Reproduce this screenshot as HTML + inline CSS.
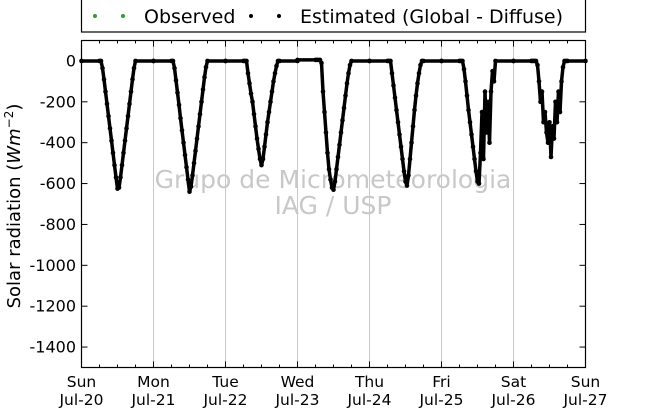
<!DOCTYPE html>
<html><head><meta charset="utf-8"><style>
body{margin:0;background:#fff;}
svg{display:block;font-family:"DejaVu Sans","Liberation Sans",sans-serif;}
</style></head><body>
<svg id="chart" width="650" height="409" viewBox="0 0 650 409">
<rect width="650" height="409" fill="#fff"/>
<g id="grid"></g>
<text x="333" y="188" text-anchor="middle" font-size="25" fill="#c8c8c8">Grupo de Micrometeorologia</text>
<text x="333" y="214" text-anchor="middle" font-size="25" fill="#c8c8c8">IAG / USP</text>
<g id="series"></g>
<rect x="81.5" y="40.5" width="504" height="327" fill="none" stroke="#000" stroke-width="1.2"/>
<g id="axes"></g>
<text transform="translate(20,206) rotate(-90)" text-anchor="middle" font-size="18">Solar radiation (<tspan font-style="italic">Wm</tspan><tspan font-size="12" dy="-7">−2</tspan><tspan dy="7">)</tspan></text>
<g>
<rect x="81.5" y="-5" width="504" height="37" fill="#fff" stroke="#000" stroke-width="1.2"/>
<circle cx="95" cy="16" r="2" fill="#2ca02c"/>
<circle cx="123" cy="16" r="2" fill="#2ca02c"/>
<text x="144" y="23" font-size="19">Observed</text>
<circle cx="251" cy="16" r="2" fill="#000"/>
<circle cx="279" cy="16" r="2" fill="#000"/>
<text x="300" y="23" font-size="19">Estimated (Global - Diffuse)</text>
</g>
</svg>
<script>
const hours=[0,6,6.5,7,7.5,8,8.5,9,9.5,10,10.5,11,11.5,12,12.5,13,13.5,14,14.5,15,15.5,16,16.5,17,17.5,18,24];
const day1=[0,0,0,-35,-90,-150,-210,-270,-330,-390,-450,-510,-570,-625,-620,-570,-510,-450,-390,-330,-270,-210,-150,-90,-35,0,0];
const day2=[0,0,0,-35,-95,-155,-215,-280,-340,-400,-460,-520,-580,-640,-615,-560,-500,-440,-380,-320,-260,-200,-140,-80,-30,0,0];
const day3=[0,0,0,0,-60,-110,-160,-200,-260,-320,-380,-430,-480,-510,-480,-420,-360,-300,-250,-200,-150,-100,-60,-25,0,0,0];
const day4=[5,5,5,5,5,-10,-150,-250,-350,-450,-530,-580,-620,-630,-590,-530,-470,-410,-350,-290,-230,-170,-110,-60,-20,0,0];
const day5=[0,0,0,0,-60,-120,-180,-240,-300,-360,-420,-480,-540,-590,-610,-560,-480,-400,-320,-240,-170,-110,-60,-20,0,0,0];
const day6=[0,0,0,0,-40,-100,-170,-240,-300,-360,-420,-480,-540,-590,-600,-450,-250,-480,-150,-350,-200,-400,-150,-50,-100,0,0];
const day7=[0,0,0,0,0,-20,-100,-200,-150,-300,-250,-350,-400,-300,-470,-320,-380,-200,-300,-150,-250,-100,-30,0,0,0,0];
const days=[day1,day2,day3,day4,day5,day6,day7];
const yTicks=[0,-200,-400,-600,-800,-1000,-1200,-1400];
const xTickNames=["Sun","Mon","Tue","Wed","Thu","Fri","Sat","Sun"];
const xTickDates=["Jul-20","Jul-21","Jul-22","Jul-23","Jul-24","Jul-25","Jul-26","Jul-27"];
const X0=81.5,X1=585.5,Y0=40.5,Y1=367.5,YMAX=100,YMIN=-1500;
const xs=d=>X0+(d/7)*(X1-X0);
const ys=v=>Y0+(YMAX-v)/(YMAX-YMIN)*(Y1-Y0);
const NS="http://www.w3.org/2000/svg";
function mk(t,a,p){const e=document.createElementNS(NS,t);for(const k in a)e.setAttribute(k,a[k]);p.appendChild(e);return e;}
const grid=document.getElementById('grid'),axes=document.getElementById('axes'),series=document.getElementById('series');
for(let i=1;i<7;i++){const l=mk('line',{x1:xs(i),x2:xs(i),y1:Y0,y2:Y1,stroke:'#c8c8c8','stroke-width':1},grid);

}
for(let i=0;i<xTickNames.length;i++){
 for(let q=0;q<4&&i<7;q++){const x=xs(i+q/4),len=q?3:6;
  const t1=mk('line',{x1:x,x2:x,y1:Y0,y2:Y0+len,stroke:'#000'},axes);
  
  
  const t2=mk('line',{x1:x,x2:x,y1:Y1,y2:Y1-len,stroke:'#000'},axes);
  
  }
 const a=mk('text',{x:xs(i),y:387,'text-anchor':'middle','font-size':15.5},axes);a.textContent=xTickNames[i];
 
 
 const b=mk('text',{x:xs(i),y:405,'text-anchor':'middle','font-size':15.5},axes);b.textContent=xTickDates[i];
 
 
}
yTicks.forEach(v=>{const y=ys(v);
 const l=mk('line',{x1:X0,x2:X0+6,y1:y,y2:y,stroke:'#000'},axes);
 
 
 const r=mk('line',{x1:X1,x2:X1-6,y1:y,y2:y,stroke:'#000'},axes);
 
 
 const t=mk('text',{x:76,y:y+5.5,'text-anchor':'end','font-size':16},axes);t.textContent=v;
 
 });
const pts=[];
days.forEach((arr,d)=>arr.forEach((v,i)=>pts.push([xs(d+hours[i]/24),ys(v)])));
const pl=mk('polyline',{points:pts.map(p=>p.join(',')).join(' '),fill:'none',stroke:'#000','stroke-width':3.5,'stroke-linejoin':'round'},series);


pts.forEach(p=>{const c=mk('circle',{cx:p[0],cy:p[1],r:2.3,fill:'#000'},series);
 
 });
</script>
</body></html>
